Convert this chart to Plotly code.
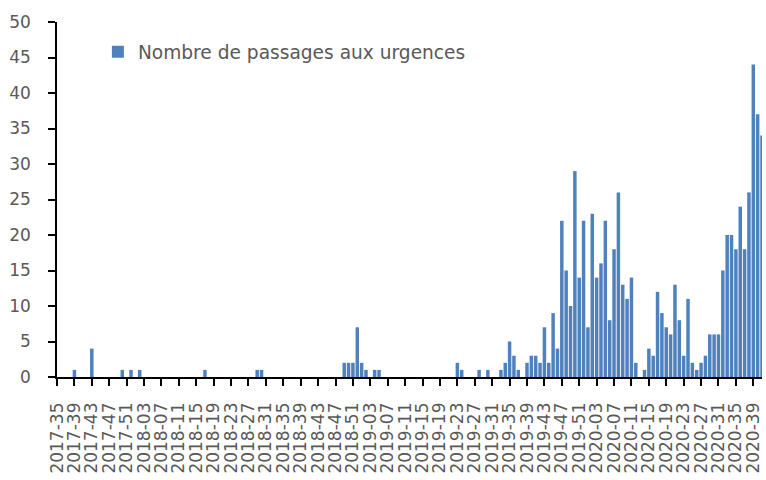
import plotly.graph_objects as go

# Weekly counts (ISO weeks)
weeks_2017 = list(range(35, 53))
values_2017 = [0, 0, 0, 0, 1, 0, 0, 0, 4, 0, 0, 0, 0, 0, 0, 1, 0, 1]

weeks_2018 = list(range(1, 53))
values_2018 = [0, 1, 0, 0, 0, 0, 0, 0, 0, 0,
               0, 0, 0, 0, 0, 0, 1, 0, 0, 0,
               0, 0, 0, 0, 0, 0, 0, 0, 1, 1,
               0, 0, 0, 0, 0, 0, 0, 0, 0, 0,
               0, 0, 0, 0, 0, 0, 0, 0, 2, 2,
               2, 7]

weeks_2019 = list(range(1, 53))
values_2019 = [2, 1, 0, 1, 1, 0, 0, 0, 0, 0,
               0, 0, 0, 0, 0, 0, 0, 0, 0, 0,
               0, 0, 2, 1, 0, 0, 0, 1, 0, 1,
               0, 0, 1, 2, 5, 3, 1, 0, 2, 3,
               3, 2, 7, 2, 9, 4, 22, 15, 10, 29,
               14, 22]

weeks_2020 = list(range(1, 42))
values_2020 = [7, 23, 14, 16, 22, 8, 18, 26, 13, 11,
               14, 2, 0, 1, 4, 3, 12, 9, 7, 6,
               13, 8, 3, 11, 2, 1, 2, 3, 6, 6,
               6, 15, 20, 20, 18, 24, 18, 26, 44, 37,
               34]

series_name = "Nombre de passages aux urgences"

categories = ([f"2017-{w:02d}" for w in weeks_2017]
              + [f"2018-{w:02d}" for w in weeks_2018]
              + [f"2019-{w:02d}" for w in weeks_2019]
              + [f"2020-{w:02d}" for w in weeks_2020])
values = values_2017 + values_2018 + values_2019 + values_2020
tick_labels = categories[::4]

fig = go.Figure()
fig.add_trace(go.Bar(
    x=categories, y=values, name=series_name,
    marker=dict(color="#4F81BD", line=dict(width=0)),
    showlegend=True,
))

font_family = "DejaVu Sans"
gray = "#595959"

fig.update_layout(
    width=766, height=480,
    margin=dict(l=57, r=4, t=22, b=103),
    paper_bgcolor="white", plot_bgcolor="white",
    bargap=0.2,
    font=dict(family=font_family, color=gray),
    showlegend=True,
    legend=dict(x=0.058, y=0.915, xanchor="left", yanchor="middle",
                font=dict(family=font_family, size=18.6, color=gray),
                bgcolor="rgba(0,0,0,0)", itemclick=False),
    xaxis=dict(type="category", range=[0, len(categories) - 1],
               tickmode="array", tickvals=tick_labels, ticktext=tick_labels,
               tickangle=-90, ticks="outside", ticklen=7, tickwidth=1.5,
               tickcolor="black", showline=True, linecolor="black",
               linewidth=1.5, showgrid=False, zeroline=False,
               ticklabelstandoff=10,
               tickfont=dict(family=font_family, size=17, color=gray)),
    yaxis=dict(range=[0, 50], dtick=5, tick0=0, ticks="outside", ticklen=7,
               tickwidth=1.5, tickcolor="black", showline=True,
               linecolor="black", linewidth=1.5, showgrid=False,
               zeroline=False, ticklabelstandoff=14,
               tickfont=dict(family=font_family, size=17, color=gray)),
)

fig.write_html("out.html", config={"displayModeBar": False},
               post_script="document.body.style.margin='0';")
